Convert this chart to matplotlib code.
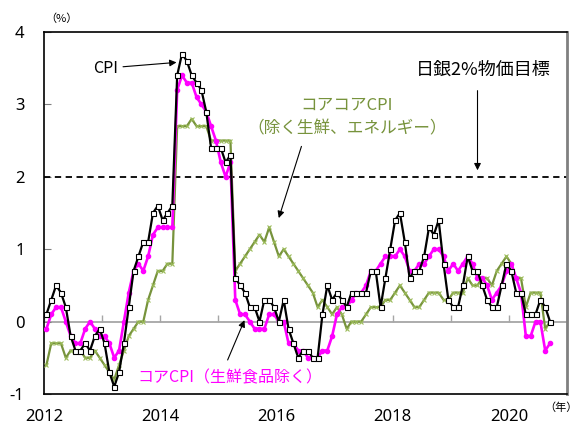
import numpy as np
import pandas as pd
import matplotlib
matplotlib.use("Agg")
import matplotlib.pyplot as plt

plt.rcParams['font.family'] = ['Noto Sans CJK JP', 'DejaVu Sans']

start = "2012-01"
cpi = [0.1, 0.3, 0.5, 0.4, 0.2, -0.2, -0.4, -0.4, -0.3, -0.4, -0.2, -0.1,
       -0.3, -0.7, -0.9, -0.7, -0.3, 0.2, 0.7, 0.9, 1.1, 1.1, 1.5, 1.6,
       1.4, 1.5, 1.6, 3.4, 3.7, 3.6, 3.4, 3.3, 3.2, 2.9, 2.4, 2.4,
       2.4, 2.2, 2.3, 0.6, 0.5, 0.4, 0.2, 0.2, 0.0, 0.3, 0.3, 0.2,
       0.0, 0.3, -0.1, -0.3, -0.5, -0.4, -0.4, -0.5, -0.5, 0.1, 0.5, 0.3,
       0.4, 0.3, 0.2, 0.4, 0.4, 0.4, 0.4, 0.7, 0.7, 0.2, 0.6, 1.0,
       1.4, 1.5, 1.1, 0.6, 0.7, 0.7, 0.9, 1.3, 1.2, 1.4, 0.8, 0.3,
       0.2, 0.2, 0.5, 0.9, 0.7, 0.7, 0.5, 0.3, 0.2, 0.2, 0.5, 0.8,
       0.7, 0.4, 0.4, 0.1, 0.1, 0.1, 0.3, 0.2, 0.0]
core_cpi = [-0.1, 0.1, 0.2, 0.2, 0.0, -0.2, -0.3, -0.3, -0.1, 0.0, -0.1, -0.2,
            -0.2, -0.3, -0.5, -0.4, 0.0, 0.4, 0.7, 0.8, 0.7, 0.9, 1.2, 1.3,
            1.3, 1.3, 1.3, 3.2, 3.4, 3.3, 3.3, 3.1, 3.0, 2.9, 2.7, 2.5,
            2.2, 2.0, 2.2, 0.3, 0.1, 0.1, 0.0, -0.1, -0.1, -0.1, 0.1, 0.1,
            0.0, 0.0, -0.3, -0.3, -0.4, -0.4, -0.5, -0.5, -0.5, -0.4, -0.4, -0.2,
            0.1, 0.2, 0.2, 0.3, 0.4, 0.4, 0.5, 0.7, 0.7, 0.8, 0.9, 0.9,
            0.9, 1.0, 0.9, 0.7, 0.7, 0.8, 0.8, 0.9, 1.0, 1.0, 0.9, 0.7,
            0.8, 0.7, 0.8, 0.9, 0.8, 0.6, 0.6, 0.5, 0.3, 0.4, 0.5, 0.7,
            0.8, 0.6, 0.4, -0.2, -0.2, 0.0, 0.0, -0.4, -0.3]
corecore_cpi = [-0.6, -0.3, -0.3, -0.3, -0.5, -0.4, -0.4, -0.4, -0.5, -0.5, -0.4, -0.5,
                -0.6, -0.7, -0.8, -0.6, -0.4, -0.2, -0.1, 0.0, 0.0, 0.3, 0.5, 0.7,
                0.7, 0.8, 0.8, 2.7, 2.7, 2.7, 2.8, 2.7, 2.7, 2.7, 2.5, 2.5,
                2.5, 2.5, 2.5, 0.7, 0.8, 0.9, 1.0, 1.1, 1.2, 1.1, 1.3, 1.1,
                0.9, 1.0, 0.9, 0.8, 0.7, 0.6, 0.5, 0.4, 0.2, 0.3, 0.2, 0.1,
                0.2, 0.1, -0.1, 0.0, 0.0, 0.0, 0.1, 0.2, 0.2, 0.2, 0.3, 0.3,
                0.4, 0.5, 0.4, 0.3, 0.2, 0.2, 0.3, 0.4, 0.4, 0.4, 0.3, 0.3,
                0.4, 0.4, 0.4, 0.6, 0.5, 0.5, 0.6, 0.6, 0.5, 0.7, 0.8, 0.9,
                0.8, 0.6, 0.6, 0.2, 0.4, 0.4, 0.4, -0.1, 0.0]
boj_target = 2.0
year_labels = [2012, 2014, 2016, 2018, 2020]
y_ticks = [-1, 0, 1, 2, 3, 4]

dates = pd.date_range(start, periods=len(cpi), freq="MS")
x = dates.year + (dates.month - 0.5) / 12.0

W, H = 580, 426
fig = plt.figure(figsize=(W / 100, H / 100), dpi=100)
ax = fig.add_axes([44 / W, 32 / H, (567 - 44) / W, (394 - 32) / H])

GREEN = '#77933c'
MAG = '#ff00ff'

ax.plot(x, corecore_cpi, color=GREEN, lw=1.6, marker='x', ms=3, mew=0.8,
        mec='#9bbb59', zorder=3)
ax.plot(x, core_cpi, color=MAG, lw=1.9, marker='o', ms=3, mec=MAG, mfc=MAG, zorder=4)
ax.plot(x, cpi, color='black', lw=1.6, marker='s', ms=3.6, mfc='white', mec='black',
        mew=0.8, zorder=5)

ax.axhline(boj_target, color='black', lw=1.3, ls=(0, (3.5, 2.5)), zorder=2)

ax.set_xlim(2012, 2021)
ax.set_ylim(-1, 4)

# zero axis with yearly ticks
sec = ax.secondary_xaxis(0.2)
sec.set_xticks(np.arange(2012, 2022))
sec.tick_params(direction='in', length=5, width=1, color='#a6a6a6', labelbottom=False)
sec.spines['bottom'].set_color('#a6a6a6')
sec.spines['bottom'].set_linewidth(1.3)

ax.set_xticks(year_labels)
ax.set_xticklabels([str(v) for v in year_labels], family='Noto Sans')
ax.tick_params(axis='x', length=0, pad=11, labelsize=12)
ax.set_yticks(y_ticks)
ax.set_yticklabels([str(v) for v in y_ticks], family='Noto Sans')
ax.tick_params(axis='y', direction='in', length=5, color='#808080', pad=14, labelsize=12)

for s in ['left', 'top', 'bottom']:
    ax.spines[s].set_color('black')
    ax.spines[s].set_linewidth(1.2)
ax.spines['right'].set_color('#808080')
ax.spines['right'].set_linewidth(2)

arrow = dict(arrowstyle='-|>', color='black', lw=0.8, mutation_scale=10, shrinkA=0, shrinkB=0)

ax.text(2013.06, 3.50, 'CPI', fontsize=11.5, ha='center', va='center')
ax.annotate('', xy=(2014.28, 3.58), xytext=(2013.36, 3.52), arrowprops=arrow)

ax.text(2019.56, 3.48, '日銀2%物価目標', fontsize=13, ha='center', va='center')
ax.annotate('', xy=(2019.46, 2.09), xytext=(2019.46, 3.19), arrowprops=arrow)

ax.text(2017.21, 2.99, 'コアコアCPI', fontsize=12, color=GREEN, ha='center', va='center')
ax.text(2017.21, 2.66, '（除く生鮮、エネルギー）', fontsize=12, color=GREEN, ha='center', va='center')
ax.annotate('', xy=(2016.04, 1.43), xytext=(2016.43, 2.42), arrowprops=arrow)

ax.text(2013.61, -0.78, 'コアCPI（生鮮食品除く）', fontsize=11.5, color=MAG, ha='left', va='center')
ax.annotate('', xy=(2015.45, 0.02), xytext=(2015.16, -0.53), arrowprops=arrow)

fig.text(45 / W, 1 - 19 / H, '（%）', fontsize=8, ha='left', va='center')
fig.text(578 / W, 1 - 408 / H, '（年）', fontsize=8, ha='right', va='center')

fig.savefig('out.png', dpi=100)
